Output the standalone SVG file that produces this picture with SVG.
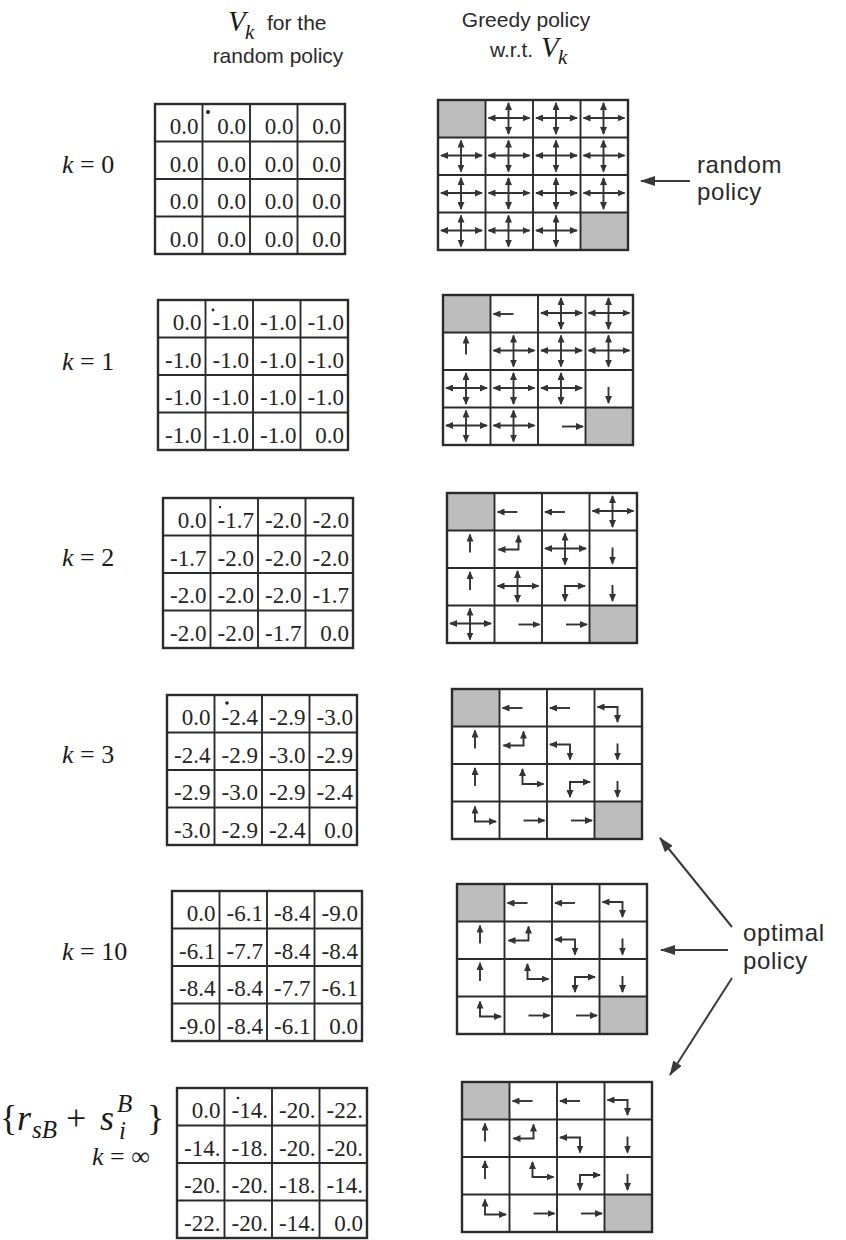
<svg xmlns="http://www.w3.org/2000/svg" width="846" height="1240" viewBox="0 0 846 1240">
<style>
.bg{fill:#ffffff}
.frame{fill:none;stroke:#2b2b2b;stroke-width:2.4}
.gl{stroke:#2b2b2b;stroke-width:1.9}
.gray{fill:#bdbdbd}
.v{font-family:"Liberation Serif","Times New Roman",serif;font-size:23px;text-anchor:end;fill:#242424}
.ar{fill:none;stroke:#333;stroke-width:1.9}
.lbl{font-family:"Liberation Sans",Arial,sans-serif;font-size:24px;letter-spacing:0.6px;fill:#2a2a2a}
.hd{font-family:"Liberation Sans",Arial,sans-serif;font-size:21px;fill:#2a2a2a}
.math{font-family:"Liberation Serif","Times New Roman",serif;fill:#1a1a1a}
.it{font-style:italic}
.con{stroke:#3a3a3a;stroke-width:2;fill:none}
.dot{fill:#222}
</style>
<defs>
<marker id="ah" viewBox="0 0 8 7" refX="7" refY="3.5" markerWidth="8" markerHeight="7" markerUnits="userSpaceOnUse" orient="auto-start-reverse"><path d="M0,0 L8,3.5 L0,7 z" fill="#333"/></marker>
<marker id="big" viewBox="0 0 15 10" refX="14" refY="5" markerWidth="15" markerHeight="10" markerUnits="userSpaceOnUse" orient="auto"><path d="M0,0 L15,5 L0,10 z" fill="#3a3a3a"/></marker>
<g id="X"><line class="ar" x1="3" y1="18" x2="44" y2="18" marker-start="url(#ah)" marker-end="url(#ah)"/><line class="ar" x1="23" y1="3" x2="23" y2="34" marker-start="url(#ah)" marker-end="url(#ah)"/></g>
<line id="L" class="ar" x1="23" y1="19" x2="3" y2="19" marker-end="url(#ah)"/>
<line id="U" class="ar" x1="23" y1="22" x2="23" y2="4" marker-end="url(#ah)"/>
<line id="D" class="ar" x1="23" y1="17" x2="23" y2="33" marker-end="url(#ah)"/>
<line id="R" class="ar" x1="24" y1="19" x2="45" y2="19" marker-end="url(#ah)"/>
<path id="LD" class="ar" d="M3,18 H23 V33" marker-start="url(#ah)" marker-end="url(#ah)"/>
<path id="LU" class="ar" d="M24,5 V19 H4" marker-start="url(#ah)" marker-end="url(#ah)"/>
<path id="UR" class="ar" d="M23,5 V20 H44" marker-start="url(#ah)" marker-end="url(#ah)"/>
<path id="DR" class="ar" d="M23,33 V18 H43" marker-start="url(#ah)" marker-end="url(#ah)"/>
<g id="lines"><line class="gl" x1="47.5" y1="0" x2="47.5" y2="150"/><line class="gl" x1="95" y1="0" x2="95" y2="150"/><line class="gl" x1="142.5" y1="0" x2="142.5" y2="150"/><line class="gl" x1="0" y1="37.5" x2="190" y2="37.5"/><line class="gl" x1="0" y1="75" x2="190" y2="75"/><line class="gl" x1="0" y1="112.5" x2="190" y2="112.5"/><rect class="frame" x="0" y="0" width="190" height="150"/></g>
<g id="grays"><rect class="gray" x="0" y="0" width="47.5" height="37.5"/><rect class="gray" x="142.5" y="112.5" width="47.5" height="37.5"/></g>
</defs>
<rect class="bg" x="0" y="0" width="846" height="1240"/>

<g id="header-left">
<text class="math it" x="228" y="31" font-size="29">V</text>
<text class="math it" x="245" y="39" font-size="21">k</text>
<text class="hd" x="267" y="30">for the</text>
<text class="hd" x="278" y="63" text-anchor="middle">random policy</text>
</g>
<g id="header-right">
<text class="hd" x="526" y="27" text-anchor="middle">Greedy policy</text>
<text class="hd" x="490" y="57">w.r.t.</text>
<text class="math it" x="541" y="57" font-size="29">V</text>
<text class="math it" x="558" y="64" font-size="21">k</text>
</g>

<g id="labels-k">
<text class="math" x="62" y="173" font-size="26"><tspan class="it">k</tspan> = 0</text>
<text class="math" x="62" y="370" font-size="26"><tspan class="it">k</tspan> = 1</text>
<text class="math" x="62" y="566" font-size="26"><tspan class="it">k</tspan> = 2</text>
<text class="math" x="62" y="763" font-size="26"><tspan class="it">k</tspan> = 3</text>
<text class="math" x="62" y="960" font-size="26"><tspan class="it">k</tspan> = 10</text>
<text class="math" x="92" y="1165" font-size="26"><tspan class="it">k</tspan> = ∞</text>
</g>
<g id="formula">
<text class="math" x="0" y="1130" font-size="36">{</text>
<text class="math it" x="17" y="1130" font-size="36">r</text>
<text class="math it" x="32" y="1138" font-size="25">sB</text>
<text class="math" x="66" y="1130" font-size="36">+</text>
<text class="math it" x="100" y="1130" font-size="36">s</text>
<text class="math it" x="117" y="1112" font-size="25">B</text>
<text class="math it" x="119" y="1139" font-size="25">i</text>
<text class="math" x="147" y="1130" font-size="36">}</text>
</g>

<g id="value-k0" transform="translate(155,104)">
<use href="#lines"/>
<circle class="dot" cx="53" cy="8" r="2"/>
<text class="v" x="43.5" y="30">0.0</text><text class="v" x="91" y="30">0.0</text><text class="v" x="138.5" y="30">0.0</text><text class="v" x="186" y="30">0.0</text>
<text class="v" x="43.5" y="67.5">0.0</text><text class="v" x="91" y="67.5">0.0</text><text class="v" x="138.5" y="67.5">0.0</text><text class="v" x="186" y="67.5">0.0</text>
<text class="v" x="43.5" y="105">0.0</text><text class="v" x="91" y="105">0.0</text><text class="v" x="138.5" y="105">0.0</text><text class="v" x="186" y="105">0.0</text>
<text class="v" x="43.5" y="142.5">0.0</text><text class="v" x="91" y="142.5">0.0</text><text class="v" x="138.5" y="142.5">0.0</text><text class="v" x="186" y="142.5">0.0</text>
</g>
<g id="value-k1" transform="translate(158,300)">
<use href="#lines"/>
<circle class="dot" cx="55" cy="10" r="1.4"/>
<text class="v" x="43.5" y="30">0.0</text><text class="v" x="91" y="30">-1.0</text><text class="v" x="138.5" y="30">-1.0</text><text class="v" x="186" y="30">-1.0</text>
<text class="v" x="43.5" y="67.5">-1.0</text><text class="v" x="91" y="67.5">-1.0</text><text class="v" x="138.5" y="67.5">-1.0</text><text class="v" x="186" y="67.5">-1.0</text>
<text class="v" x="43.5" y="105">-1.0</text><text class="v" x="91" y="105">-1.0</text><text class="v" x="138.5" y="105">-1.0</text><text class="v" x="186" y="105">-1.0</text>
<text class="v" x="43.5" y="142.5">-1.0</text><text class="v" x="91" y="142.5">-1.0</text><text class="v" x="138.5" y="142.5">-1.0</text><text class="v" x="186" y="142.5">0.0</text>
</g>
<g id="value-k2" transform="translate(163,498)">
<use href="#lines"/>
<circle class="dot" cx="57" cy="9" r="1.2"/>
<text class="v" x="43.5" y="30">0.0</text><text class="v" x="91" y="30">-1.7</text><text class="v" x="138.5" y="30">-2.0</text><text class="v" x="186" y="30">-2.0</text>
<text class="v" x="43.5" y="67.5">-1.7</text><text class="v" x="91" y="67.5">-2.0</text><text class="v" x="138.5" y="67.5">-2.0</text><text class="v" x="186" y="67.5">-2.0</text>
<text class="v" x="43.5" y="105">-2.0</text><text class="v" x="91" y="105">-2.0</text><text class="v" x="138.5" y="105">-2.0</text><text class="v" x="186" y="105">-1.7</text>
<text class="v" x="43.5" y="142.5">-2.0</text><text class="v" x="91" y="142.5">-2.0</text><text class="v" x="138.5" y="142.5">-1.7</text><text class="v" x="186" y="142.5">0.0</text>
</g>
<g id="value-k3" transform="translate(167,695)">
<use href="#lines"/>
<circle class="dot" cx="60" cy="8" r="1.8"/>
<text class="v" x="43.5" y="30">0.0</text><text class="v" x="91" y="30">-2.4</text><text class="v" x="138.5" y="30">-2.9</text><text class="v" x="186" y="30">-3.0</text>
<text class="v" x="43.5" y="67.5">-2.4</text><text class="v" x="91" y="67.5">-2.9</text><text class="v" x="138.5" y="67.5">-3.0</text><text class="v" x="186" y="67.5">-2.9</text>
<text class="v" x="43.5" y="105">-2.9</text><text class="v" x="91" y="105">-3.0</text><text class="v" x="138.5" y="105">-2.9</text><text class="v" x="186" y="105">-2.4</text>
<text class="v" x="43.5" y="142.5">-3.0</text><text class="v" x="91" y="142.5">-2.9</text><text class="v" x="138.5" y="142.5">-2.4</text><text class="v" x="186" y="142.5">0.0</text>
</g>
<g id="value-k10" transform="translate(172,891)">
<use href="#lines"/>
<text class="v" x="43.5" y="30">0.0</text><text class="v" x="91" y="30">-6.1</text><text class="v" x="138.5" y="30">-8.4</text><text class="v" x="186" y="30">-9.0</text>
<text class="v" x="43.5" y="67.5">-6.1</text><text class="v" x="91" y="67.5">-7.7</text><text class="v" x="138.5" y="67.5">-8.4</text><text class="v" x="186" y="67.5">-8.4</text>
<text class="v" x="43.5" y="105">-8.4</text><text class="v" x="91" y="105">-8.4</text><text class="v" x="138.5" y="105">-7.7</text><text class="v" x="186" y="105">-6.1</text>
<text class="v" x="43.5" y="142.5">-9.0</text><text class="v" x="91" y="142.5">-8.4</text><text class="v" x="138.5" y="142.5">-6.1</text><text class="v" x="186" y="142.5">0.0</text>
</g>
<g id="value-kinf" transform="translate(177,1088)">
<use href="#lines"/>
<circle class="dot" cx="61" cy="10" r="1.3"/>
<text class="v" x="43.5" y="30">0.0</text><text class="v" x="91" y="30">-14.</text><text class="v" x="138.5" y="30">-20.</text><text class="v" x="186" y="30">-22.</text>
<text class="v" x="43.5" y="67.5">-14.</text><text class="v" x="91" y="67.5">-18.</text><text class="v" x="138.5" y="67.5">-20.</text><text class="v" x="186" y="67.5">-20.</text>
<text class="v" x="43.5" y="105">-20.</text><text class="v" x="91" y="105">-20.</text><text class="v" x="138.5" y="105">-18.</text><text class="v" x="186" y="105">-14.</text>
<text class="v" x="43.5" y="142.5">-22.</text><text class="v" x="91" y="142.5">-20.</text><text class="v" x="138.5" y="142.5">-14.</text><text class="v" x="186" y="142.5">0.0</text>
</g>

<g id="policy-k0" transform="translate(438,100)">
<use href="#grays"/>
<use href="#X" x="47.5" y="0"/><use href="#X" x="95" y="0"/><use href="#X" x="142.5" y="0"/>
<use href="#X" x="0" y="37.5"/><use href="#X" x="47.5" y="37.5"/><use href="#X" x="95" y="37.5"/><use href="#X" x="142.5" y="37.5"/>
<use href="#X" x="0" y="75"/><use href="#X" x="47.5" y="75"/><use href="#X" x="95" y="75"/><use href="#X" x="142.5" y="75"/>
<use href="#X" x="0" y="112.5"/><use href="#X" x="47.5" y="112.5"/><use href="#X" x="95" y="112.5"/>
<use href="#lines"/>
</g>
<g id="policy-k1" transform="translate(443,295)">
<use href="#grays"/>
<use href="#L" x="47.5" y="0"/><use href="#X" x="95" y="0"/><use href="#X" x="142.5" y="0"/>
<use href="#U" x="0" y="37.5"/><use href="#X" x="47.5" y="37.5"/><use href="#X" x="95" y="37.5"/><use href="#X" x="142.5" y="37.5"/>
<use href="#X" x="0" y="75"/><use href="#X" x="47.5" y="75"/><use href="#X" x="95" y="75"/><use href="#D" x="142.5" y="75"/>
<use href="#X" x="0" y="112.5"/><use href="#X" x="47.5" y="112.5"/><use href="#R" x="95" y="112.5"/>
<use href="#lines"/>
</g>
<g id="policy-k2" transform="translate(447,493)">
<use href="#grays"/>
<use href="#L" x="47.5" y="0"/><use href="#L" x="95" y="0"/><use href="#X" x="142.5" y="0"/>
<use href="#U" x="0" y="37.5"/><use href="#LU" x="47.5" y="37.5"/><use href="#X" x="95" y="37.5"/><use href="#D" x="142.5" y="37.5"/>
<use href="#U" x="0" y="75"/><use href="#X" x="47.5" y="75"/><use href="#DR" x="95" y="75"/><use href="#D" x="142.5" y="75"/>
<use href="#X" x="0" y="112.5"/><use href="#R" x="47.5" y="112.5"/><use href="#R" x="95" y="112.5"/>
<use href="#lines"/>
</g>
<g id="policy-k3" transform="translate(452,689)">
<use href="#grays"/>
<use href="#L" x="47.5" y="0"/><use href="#L" x="95" y="0"/><use href="#LD" x="142.5" y="0"/>
<use href="#U" x="0" y="37.5"/><use href="#LU" x="47.5" y="37.5"/><use href="#LD" x="95" y="37.5"/><use href="#D" x="142.5" y="37.5"/>
<use href="#U" x="0" y="75"/><use href="#UR" x="47.5" y="75"/><use href="#DR" x="95" y="75"/><use href="#D" x="142.5" y="75"/>
<use href="#UR" x="0" y="112.5"/><use href="#R" x="47.5" y="112.5"/><use href="#R" x="95" y="112.5"/>
<use href="#lines"/>
</g>
<g id="policy-k10" transform="translate(457,884)">
<use href="#grays"/>
<use href="#L" x="47.5" y="0"/><use href="#L" x="95" y="0"/><use href="#LD" x="142.5" y="0"/>
<use href="#U" x="0" y="37.5"/><use href="#LU" x="47.5" y="37.5"/><use href="#LD" x="95" y="37.5"/><use href="#D" x="142.5" y="37.5"/>
<use href="#U" x="0" y="75"/><use href="#UR" x="47.5" y="75"/><use href="#DR" x="95" y="75"/><use href="#D" x="142.5" y="75"/>
<use href="#UR" x="0" y="112.5"/><use href="#R" x="47.5" y="112.5"/><use href="#R" x="95" y="112.5"/>
<use href="#lines"/>
</g>
<g id="policy-kinf" transform="translate(462,1082)">
<use href="#grays"/>
<use href="#L" x="47.5" y="0"/><use href="#L" x="95" y="0"/><use href="#LD" x="142.5" y="0"/>
<use href="#U" x="0" y="37.5"/><use href="#LU" x="47.5" y="37.5"/><use href="#LD" x="95" y="37.5"/><use href="#D" x="142.5" y="37.5"/>
<use href="#U" x="0" y="75"/><use href="#UR" x="47.5" y="75"/><use href="#DR" x="95" y="75"/><use href="#D" x="142.5" y="75"/>
<use href="#UR" x="0" y="112.5"/><use href="#R" x="47.5" y="112.5"/><use href="#R" x="95" y="112.5"/>
<use href="#lines"/>
</g>

<g id="label-random">
<text class="lbl" x="697" y="173">random</text>
<text class="lbl" x="697" y="200">policy</text>
</g>
<g id="label-optimal">
<text class="lbl" x="743" y="941">optimal</text>
<text class="lbl" x="743" y="969">policy</text>
</g>

<g id="connectors">
<line class="con" x1="690" y1="181" x2="641" y2="181" marker-end="url(#big)"/>
<line class="con" x1="732" y1="927" x2="660" y2="838" marker-end="url(#big)"/>
<line class="con" x1="728" y1="950" x2="661" y2="950" marker-end="url(#big)"/>
<line class="con" x1="732" y1="978" x2="670" y2="1075" marker-end="url(#big)"/>
</g>
</svg>
